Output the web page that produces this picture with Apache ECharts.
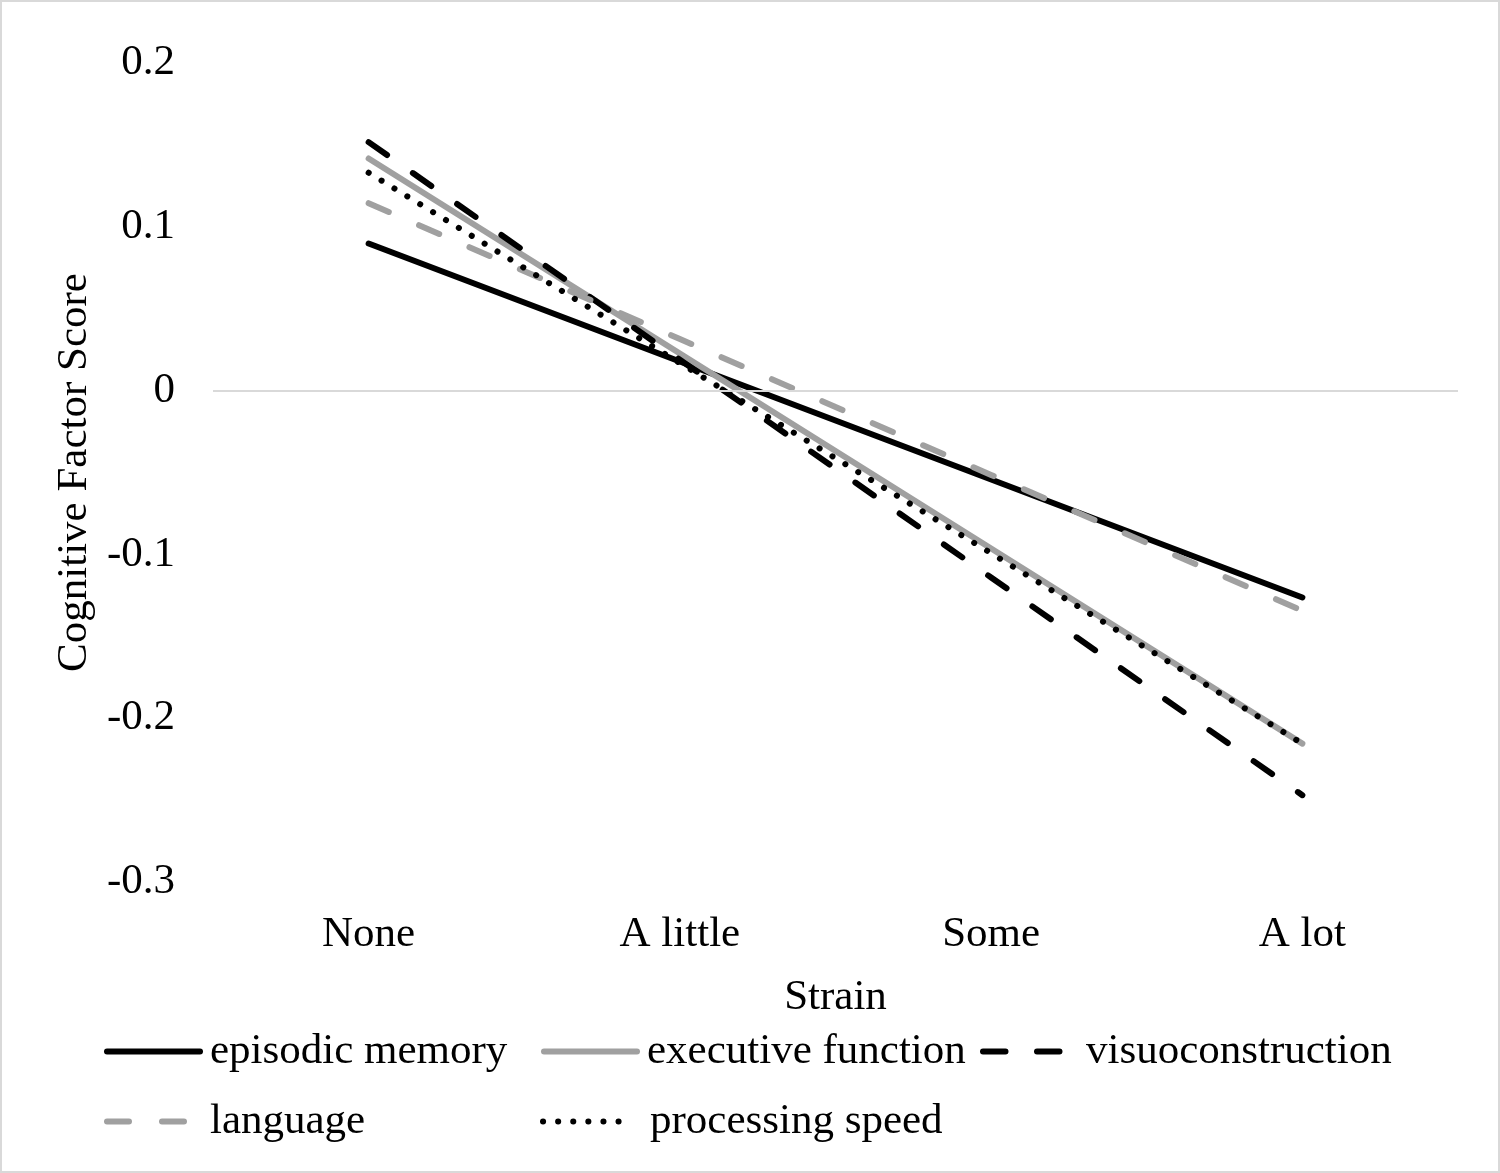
<!DOCTYPE html>
<html>
<head>
<meta charset="utf-8">
<script src="https://cdn.jsdelivr.net/npm/echarts@6/dist/echarts.min.js"></script>
<style>
  html, body { margin: 0; padding: 0; background: #fff; }
  #chart { width: 1500px; height: 1173px; }
</style>
</head>
<body>
<div id="chart"></div>
<script>
const categories = ['None', 'A little', 'Some', 'A lot']
const episodicMemory = [0.0898, 0.0178, -0.0543, -0.1263]
const executiveFunction = [0.1417, 0.0226, -0.0964, -0.2155]
const visuoconstruction = [0.1517, 0.0188, -0.1141, -0.247]
const language = [0.1144, 0.0315, -0.0515, -0.1344]
const processingSpeed = [0.133, 0.0168, -0.0993, -0.2155]

const FONT = '"Liberation Serif", "Times New Roman", serif'
const GRAY = '#a0a0a0'
const FS = 43

const chart = echarts.init(document.getElementById('chart'))

function line(name, data, color, type) {
  return {
    name,
    type: 'line',
    data,
    symbol: 'none',
    silent: true,
    itemStyle: { color },
    lineStyle: { color, width: 6, type, cap: 'round' },
  }
}

function legendAt(name, left, top, width, gap) {
  return {
    data: [name],
    left, top,
    padding: 0,
    itemWidth: width || 93,
    itemHeight: 14,
    selectedMode: false,
    itemStyle: { opacity: 0 },
    lineStyle: { width: 6 },
    textStyle: { fontFamily: FONT, fontSize: FS, color: '#000', padding: [0, 0, 0, gap || 5] },
  }
}

const series = [
  line('episodic memory', episodicMemory, '#000', 'solid'),
  line('executive function', executiveFunction, GRAY, 'solid'),
  line('visuoconstruction', visuoconstruction, '#000', [22.5, 31.5]),
  line('language', language, GRAY, [22, 33]),
  line('processing speed', processingSpeed, '#000', [0.1, 15]),
]
// zero line (Excel horizontal axis crossing at 0)
series[0].markLine = {
  silent: true,
  symbol: 'none',
  label: { show: false },
  lineStyle: { color: '#d9d9d9', width: 2, type: 'solid' },
  data: [{ yAxis: 0 }],
}

chart.setOption({
  animation: false,
  backgroundColor: '#fff',
  graphic: [{
    type: 'rect',
    shape: { x: 1, y: 1, width: 1498, height: 1171 },
    style: { fill: 'none', stroke: '#d9d9d9', lineWidth: 2 },
    silent: true,
  }],
  grid: { left: 213, right: 42, top: 63, bottom: 291 },
  legend: [
    legendAt('episodic memory', 104, 1030),
    legendAt('executive function', 541, 1030),
    legendAt('visuoconstruction', 980, 1030),
    legendAt('language', 104, 1100),
    legendAt('processing speed', 540, 1100, 85, 17),
  ],
  xAxis: {
    type: 'category',
    data: categories,
    boundaryGap: true,
    name: 'Strain',
    nameLocation: 'middle',
    nameGap: 94,
    nameTextStyle: { fontFamily: FONT, fontSize: FS, color: '#000' },
    axisLine: { show: false },
    axisTick: { show: false },
    axisLabel: { fontFamily: FONT, fontSize: FS, color: '#000', margin: 31 },
  },
  yAxis: {
    type: 'value',
    min: -0.3,
    max: 0.2,
    interval: 0.1,
    name: 'Cognitive Factor Score',
    nameLocation: 'middle',
    nameGap: 116,
    nameTextStyle: { fontFamily: FONT, fontSize: FS, color: '#000' },
    axisLine: { show: false },
    axisTick: { show: false },
    splitLine: { show: false },
    axisLabel: {
      fontFamily: FONT, fontSize: FS, color: '#000', margin: 38,
      formatter: v => (Math.abs(v) < 1e-9 ? '0' : String(Math.round(v * 10) / 10)),
    },
  },
  series,
})
</script>
</body>
</html>
